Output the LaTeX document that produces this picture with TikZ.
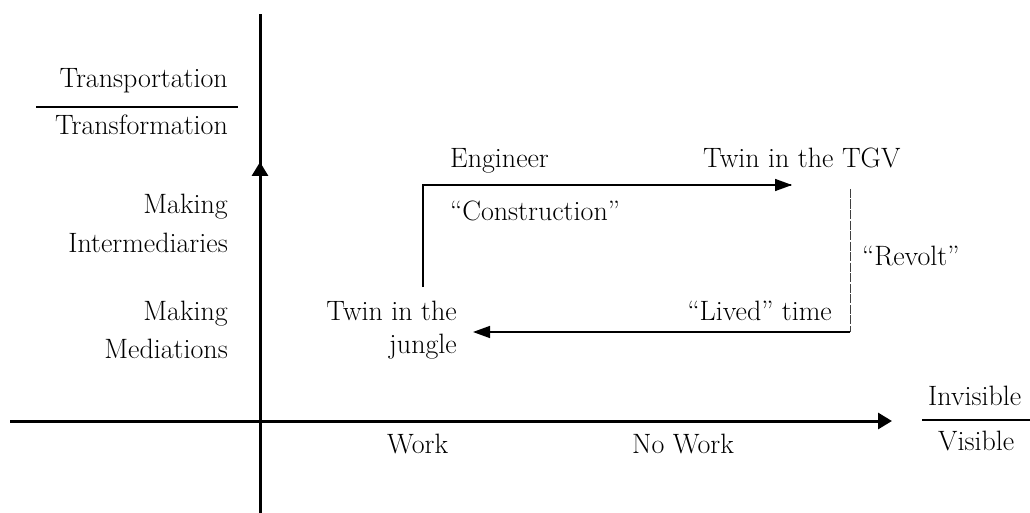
\documentclass[tikz,border=0pt]{standalone}
\usetikzlibrary{arrows.meta}
\begin{document}
\begin{tikzpicture}[x=1pt,y=-1pt,
  lbl/.style={inner sep=0pt,font=\fontsize{28}{33}\selectfont},
  axis/.style={line width=3pt},
  bigtip/.style={-{Triangle[length=14pt,width=16pt]}},
  flow/.style={line width=1.5pt,-{Triangle[length=17pt,width=12pt]}},
  revolt/.style={line width=0.9pt,dash pattern=on 9pt off 1.5pt,black!75},
  fracline/.style={line width=1.7pt}]
\useasboundingbox (0,0) rectangle (1030,513);
% axes
\coordinate (ybot) at (260,513);
\coordinate (ymid) at (260,162);
\coordinate (ytop) at (260,14);
\coordinate (xl) at (10,421);
\coordinate (xr) at (892,421);
\draw[axis] (ybot) -- (ytop);
\draw[axis,bigtip] (ybot) -- (ymid);
\draw[axis,bigtip] (xl) -- (xr);
% y labels
\node[lbl,anchor=base east] (tp) at (228,88) {Transportation};
\node[lbl,anchor=base east] (tf) at (228,135) {Transformation};
\coordinate (fl1) at (36,107);
\coordinate (fl2) at (238,107);
\draw[fracline] (fl1) -- (fl2);
\node[lbl,anchor=base east] (mk1) at (228,213) {Making};
\node[lbl,anchor=base east] (inter) at (228,252) {Intermediaries};
\node[lbl,anchor=base east] (mk2) at (228,320) {Making};
\node[lbl,anchor=base east] (medi) at (228,358) {Mediations};
% x labels
\node[lbl,anchor=base west] (work) at (387,453) {Work};
\node[lbl,anchor=base west] (nowork) at (632,453) {No Work};
\node[lbl,anchor=base west] (invis) at (928,405) {Invisible};
\node[lbl,anchor=base west] (vis) at (938,450) {Visible};
\coordinate (vl1) at (922,420);
\coordinate (vl2) at (1030,420);
\draw[fracline] (vl1) -- (vl2);
% inner labels
\node[lbl,anchor=base west] (eng) at (450,168) {Engineer};
\node[lbl,anchor=base west] (tgv) at (703,168) {Twin in the TGV};
\node[lbl,anchor=base west] (constr) at (450,220) {``Construction''};
\node[lbl,anchor=base west] (rev) at (862,265) {``Revolt''};
\node[lbl,anchor=base east] (twin) at (457,320) {Twin in the};
\node[lbl,anchor=base east] (jungle) at (457,353) {jungle};
\node[lbl,anchor=base east] (lived) at (832,320) {``Lived'' time};
% loop
\coordinate (a0) at (423,287);
\coordinate (a1) at (423,185);
\coordinate (a2) at (792,185);
\coordinate (b0) at (850,189);
\coordinate (b1) at (850,332);
\coordinate (b2) at (473,332);
\draw[line width=1.5pt] (a0) -- (a1) -- ([xshift=-1pt]a2);
\draw[flow] (a1) -- (a2);
\draw[revolt] (b0) -- (b1);
\draw[flow] (b1) -- (b2);
\end{tikzpicture}
\end{document}
